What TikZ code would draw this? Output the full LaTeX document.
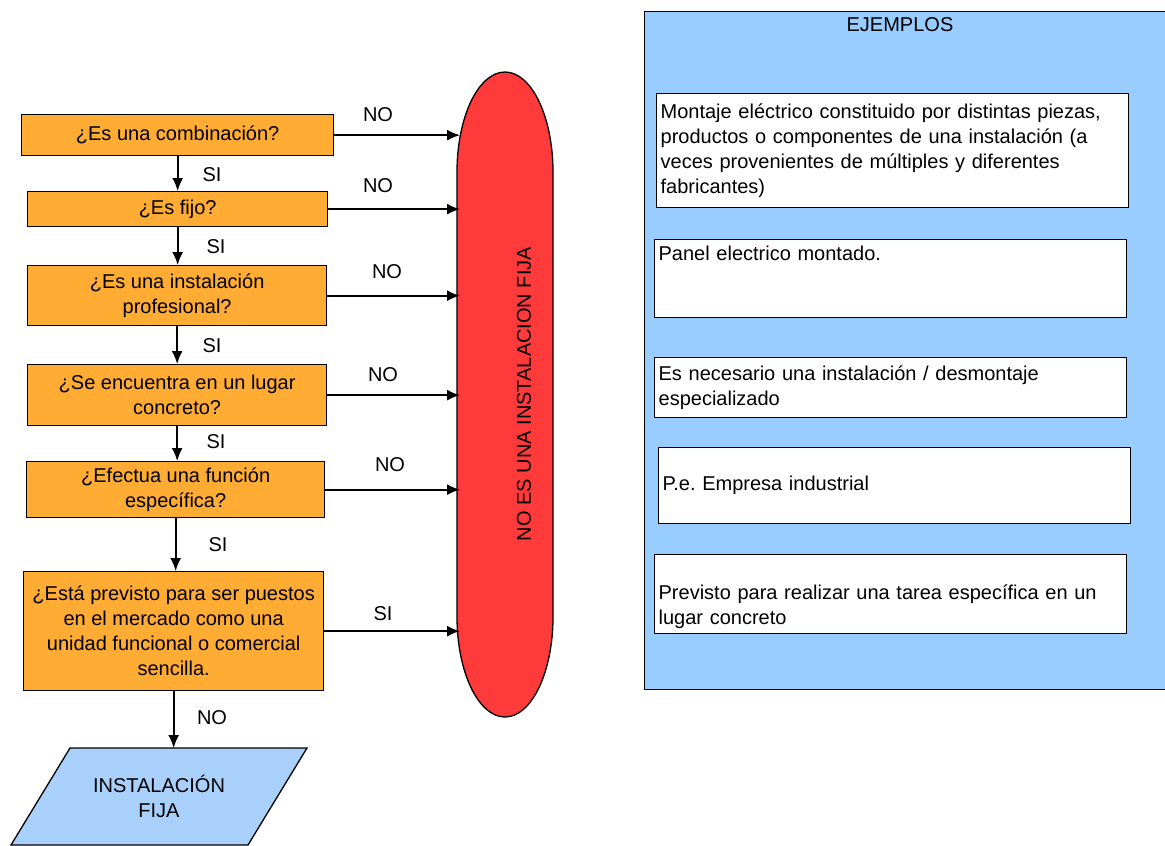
\documentclass[tikz,border=0pt]{standalone}
\usepackage{fontspec}
\setmainfont{Liberation Sans}
\usetikzlibrary{arrows.meta}
\definecolor{naranja}{RGB}{255,172,52}
\definecolor{rojo}{RGB}{255,58,58}
\definecolor{celeste}{RGB}{153,204,255}
\definecolor{celestefin}{RGB}{168,208,250}
\tikzset{
  pregunta/.style={draw,line width=1.3pt,fill=naranja,align=center,anchor=north west,inner sep=2pt},
  ejemplo/.style={draw,line width=1.3pt,fill=white,align=left,anchor=north west,text width=464pt,inner xsep=4pt},
  lbl/.style={inner sep=0pt},
  arr/.style={->,line width=1.7pt}
}
\frenchspacing
\begin{document}
\begin{tikzpicture}[x=1pt,y=-1pt,>={Latex[length=13pt,width=11pt]},font=\fontsize{20}{25}\selectfont]
            \useasboundingbox (0,0) rectangle (1165,846);
            % panel de ejemplos
            \node[draw,line width=1.3pt,fill=celeste,anchor=north west,minimum width=540,minimum height=678] (panel) at (644,11) {};
            \node[lbl] (tit) at (900,25) {EJEMPLOS};
            \node[ejemplo,minimum height=114] (e1) at (656,93) {Montaje eléctrico constituido por distintas piezas,\\productos o componentes de una instalación (a\\veces provenientes de múltiples y diferentes\\fabricantes)};
            \node[ejemplo,minimum height=78] (e2) at (654,239) {Panel electrico montado.\\~\\~};
            \node[ejemplo,minimum height=60] (e3) at (654,357) {Es necesario una instalación / desmontaje\\especializado};
            \node[ejemplo,minimum height=76] (e4) at (658,447) {P.e. Empresa industrial};
            \node[ejemplo,minimum height=79] (e5) at (654,554) {\rule{0pt}{39pt}Previsto para realizar una tarea específica en un\\lugar concreto};
            % no es una instalacion fija
            \draw[line width=1.3pt,fill=rojo] (457,172) arc[start angle=180,end angle=360,x radius=48,y radius=100] -- (553,617) arc[start angle=0,end angle=180,x radius=48,y radius=100] -- cycle;
            \node[lbl,rotate=90] (noes) at (524,394) {NO ES UNA INSTALACION FIJA};
            \coordinate (borde) at (460,0);
            % preguntas
            \node[pregunta,minimum width=312,minimum height=41] (q1) at (21,114) {¿Es una combinación?};
            \node[pregunta,minimum width=300,minimum height=35] (q2) at (27,191) {¿Es fijo?};
            \node[pregunta,minimum width=299,minimum height=60] (q3) at (27,265) {¿Es una instalación\\profesional?};
            \node[pregunta,minimum width=299,minimum height=61] (q4) at (27,364) {¿Se encuentra en un lugar\\concreto?};
            \node[pregunta,minimum width=298,minimum height=56] (q5) at (26,461) {¿Efectua una función\\específica?};
            \node[pregunta,minimum width=300,minimum height=119] (q6) at (23,571) {¿Está previsto para ser puestos\\en el mercado como una\\unidad funcional o comercial\\sencilla.};
            % instalacion fija
            \draw[line width=1.3pt,fill=celestefin] (11,845) -- (70,748) -- (307,748) -- (248,845) -- cycle;
            \node[align=center] (fin) at (159,796.5) {INSTALACIÓN\\FIJA};
            \coordinate (fintop) at (0,748);
            \foreach \a/\b in {q1/q2,q2/q3,q3/q4,q4/q5,q5/q6}\draw[arr] (\a.south) -- (\a.south |- \b.north);
            \draw[arr] (q6.south) -- (q6.south |- fintop);
            \foreach \x/\y/\t [count=\i] in {212/175/SI,216/247/SI,212/346/SI,216/442/SI,218/545/SI,212/718/NO}\node[lbl] (v\i) at (\x,\y) {\t};
            \foreach \q/\x/\y/\t in {q1/378/115/NO,q2/378/186/NO,q3/387/272/NO,q4/383/375/NO,q5/390/465/NO,q6/383/614/SI}{
                \draw[arr] (\q.east) -- (\q.east -| borde);
                \node[lbl] (h\q) at (\x,\y) {\t};
            }
        \end{tikzpicture}
\end{document}
